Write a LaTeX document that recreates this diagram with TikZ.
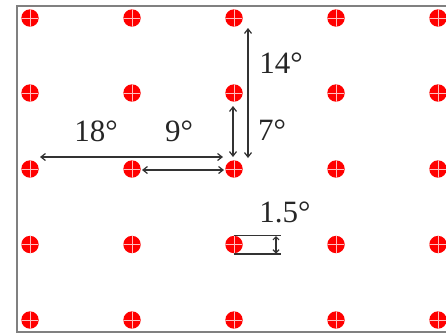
\documentclass[tikz,border=0pt]{standalone}
\usepackage{fontspec}
\setmainfont{Liberation Serif}
\usetikzlibrary{arrows.meta}

\begin{document}
\begin{tikzpicture}[
    x=1pt, y=-1pt,
    target/.style={circle, fill=red, inner sep=0pt, minimum size=17.4pt,
        path picture={\draw[red!25!white, line width=0.4pt]
            (path picture bounding box.north) -- (path picture bounding box.south)
            (path picture bounding box.west) -- (path picture bounding box.east);}},
    span/.style={<->, >={Straight Barb[length=4.5pt, width=7pt]}, line width=1.2pt, black!80},
    edge/.style={line width=1.3pt, black!80},
    angle/.style={font=\fontsize{31}{31}\selectfont, text=black!85, inner sep=0pt}
]
\clip (0,0) rectangle (446,333);
\fill[white] (0,0) rectangle (446,333);

% Frame
\draw[gray, line width=1.2pt] (460,6) -- (17,6) -- (17,332) -- (460,332);

% Ends of the spans
\coordinate (a14t) at (248, 28);
\coordinate (a14b) at (248, 158);
\coordinate (a7t) at (233, 106);
\coordinate (a7b) at (233, 157);
\coordinate (a18l) at (40, 157);
\coordinate (a18r) at (223, 157);
\coordinate (a9l) at (142, 170);
\coordinate (a9r) at (224, 170);
\coordinate (s1) at (234, 235.5);
\coordinate (s2) at (281, 235.5);
\coordinate (s3) at (234, 254);
\coordinate (s4) at (281, 254);
\coordinate (a15t) at (276, 236);
\coordinate (a15b) at (276, 253.5);

% Spans first (drawn behind)
\draw[span] (a14t) -- (a14b);
\draw[span] (a7t) -- (a7b);
\draw[span] (a18l) -- (a18r);
\draw[span] (a9l) -- (a9r);

% Size of one target
\draw[edge] (s1) -- (s2);
\draw[edge] (s3) -- (s4);
\draw[span, >={Straight Barb[length=3pt, width=6pt]}] (a15t) -- (a15b);

% Targets, row 1
\node[target] (t11) at (30, 18) {};
\node[target] (t21) at (132, 18) {};
\node[target] (t31) at (234, 18) {};
\node[target] (t41) at (336, 18) {};
\node[target] (t51) at (438, 18) {};

% Row 2
\node[target] (t12) at (30, 93) {};
\node[target] (t22) at (132, 93) {};
\node[target] (t32) at (234, 93) {};
\node[target] (t42) at (336, 93) {};
\node[target] (t52) at (438, 93) {};

% Row 3
\node[target] (t13) at (30, 169) {};
\node[target] (t23) at (132, 169) {};
\node[target] (t33) at (234, 169) {};
\node[target] (t43) at (336, 169) {};
\node[target] (t53) at (438, 169) {};

% Row 4
\node[target] (t14) at (30, 244.5) {};
\node[target] (t24) at (132, 244.5) {};
\node[target] (t34) at (234, 244.5) {};
\node[target] (t44) at (336, 244.5) {};
\node[target] (t54) at (438, 244.5) {};

% Row 5
\node[target] (t15) at (30, 320) {};
\node[target] (t25) at (132, 320) {};
\node[target] (t35) at (234, 320) {};
\node[target] (t45) at (336, 320) {};
\node[target] (t55) at (438, 320) {};

% Labels
\node[angle] (l14) at (281, 63) {14°};
\node[angle] (l7) at (272, 130) {7°};
\node[angle] (l18) at (96, 131) {18°};
\node[angle] (l9) at (179, 131) {9°};
\node[angle] (l15) at (285, 212) {1.5°};

\end{tikzpicture}
\end{document}
